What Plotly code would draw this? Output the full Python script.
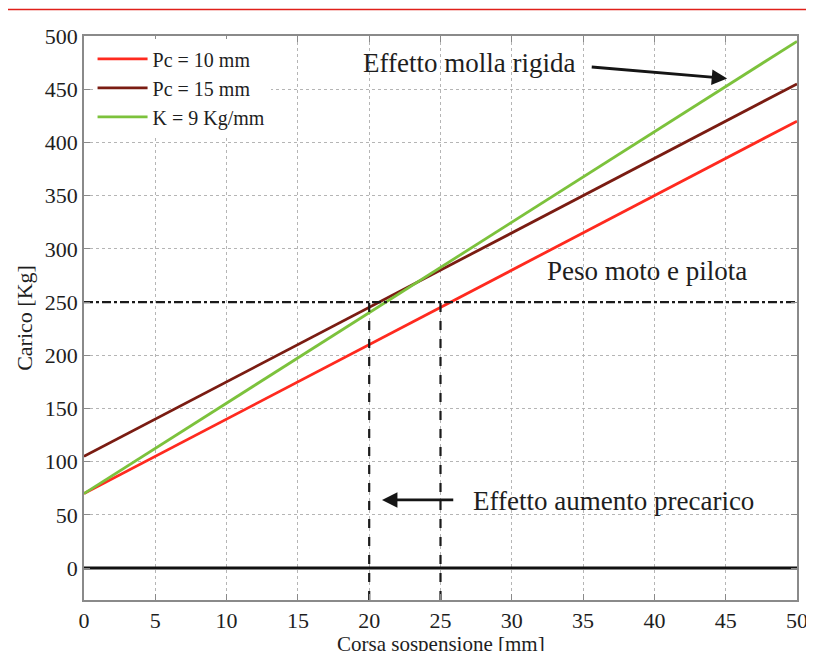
import plotly.graph_objects as go

x_vals = [0, 50]
pc10 = [70, 420]
pc15 = [105, 455]
k9 = [70, 495]
names = ["Pc = 10 mm", "Pc = 15 mm", "K = 9 Kg/mm"]
colors = ["#ff2a1f", "#7a1c12", "#7cc23c"]
peso = 250
x_marks = [20, 25]
x_ticks = list(range(0, 51, 5))
y_ticks = list(range(0, 501, 50))
x_title = "Corsa sospensione [mm]"
y_title = "Carico [Kg]"

FONT = "Liberation Serif"
TXT = "#1e1e1e"
fig = go.Figure()
for yv, nm, c in zip([pc10, pc15, k9], names, colors):
    fig.add_trace(go.Scatter(x=x_vals, y=yv, mode="lines", name=nm,
                             line=dict(color=c, width=2.8)))

# reference lines
fig.add_trace(go.Scatter(x=[0, 50], y=[peso, peso], mode="lines", showlegend=False,
                         line=dict(color="#1a1a1a", width=2.2, dash="dashdot")))
for xm in x_marks:
    fig.add_trace(go.Scatter(x=[xm, xm], y=[-30, peso], mode="lines", showlegend=False,
                             line=dict(color="#1a1a1a", width=2.2, dash="dash")))
fig.add_trace(go.Scatter(x=[0, 50], y=[0, 0], mode="lines", showlegend=False,
                         line=dict(color="#111111", width=3)))

# red decorative line at top of page
fig.add_shape(type="line", xref="paper", yref="paper",
              x0=-76/713, x1=730/713, y0=590.5/564, y1=590.5/564,
              line=dict(color="#e0201a", width=1.5))

fig.add_annotation(x=27.0, y=475, xref="x", yref="y", text="Effetto molla rigida",
                   showarrow=False, font=dict(family=FONT, size=27, color=TXT))
fig.add_annotation(x=45.1, y=460, ax=35.5, ay=471, axref="x", ayref="y",
                   xref="x", yref="y", text="", showarrow=True,
                   arrowhead=2, arrowsize=1.1, arrowwidth=2.8, arrowcolor="#151515")
fig.add_annotation(x=39.5, y=279, xref="x", yref="y", text="Peso moto e pilota",
                   showarrow=False, font=dict(family=FONT, size=27, color=TXT))
fig.add_annotation(x=37.1, y=63, xref="x", yref="y", text="Effetto aumento precarico",
                   showarrow=False, font=dict(family=FONT, size=27, color=TXT))
fig.add_annotation(x=20.9, y=64, ax=26.0, ay=64, axref="x", ayref="y",
                   xref="x", yref="y", text="", showarrow=True,
                   arrowhead=2, arrowsize=1.1, arrowwidth=2.8, arrowcolor="#151515")
# x-axis title (placed just below the tick labels, as in the reference)
fig.add_annotation(x=0.5, y=-44/564, xref="paper", yref="paper", text=x_title,
                   showarrow=False, yanchor="middle",
                   font=dict(family=FONT, size=21, color=TXT))

axis_common = dict(showline=True, linecolor="#8a8a8a", linewidth=1.5, mirror="ticks",
                   ticks="inside", ticklen=6, tickcolor="#8a8a8a", automargin=False,
                   showgrid=True, gridcolor="#b5b5b5", griddash="dot", gridwidth=1,
                   zeroline=False, tickfont=dict(family=FONT, size=22, color=TXT))

fig.update_xaxes(range=[0, 50], tickvals=x_ticks, **axis_common)
fig.update_yaxes(range=[-30, 500], tickvals=y_ticks, title=dict(text=y_title,
                 font=dict(family=FONT, size=22, color=TXT), standoff=6), **axis_common)

fig.update_layout(width=806, height=643, margin=dict(l=76, r=17, t=28, b=51),
                  paper_bgcolor="white", plot_bgcolor="white",
                  legend=dict(x=0.012, y=0.994, xanchor="left", yanchor="top",
                              bgcolor="white", font=dict(family=FONT, size=20, color=TXT),
                              itemwidth=50, tracegroupgap=0),
                  font=dict(family=FONT))
fig.write_html("out.html")
